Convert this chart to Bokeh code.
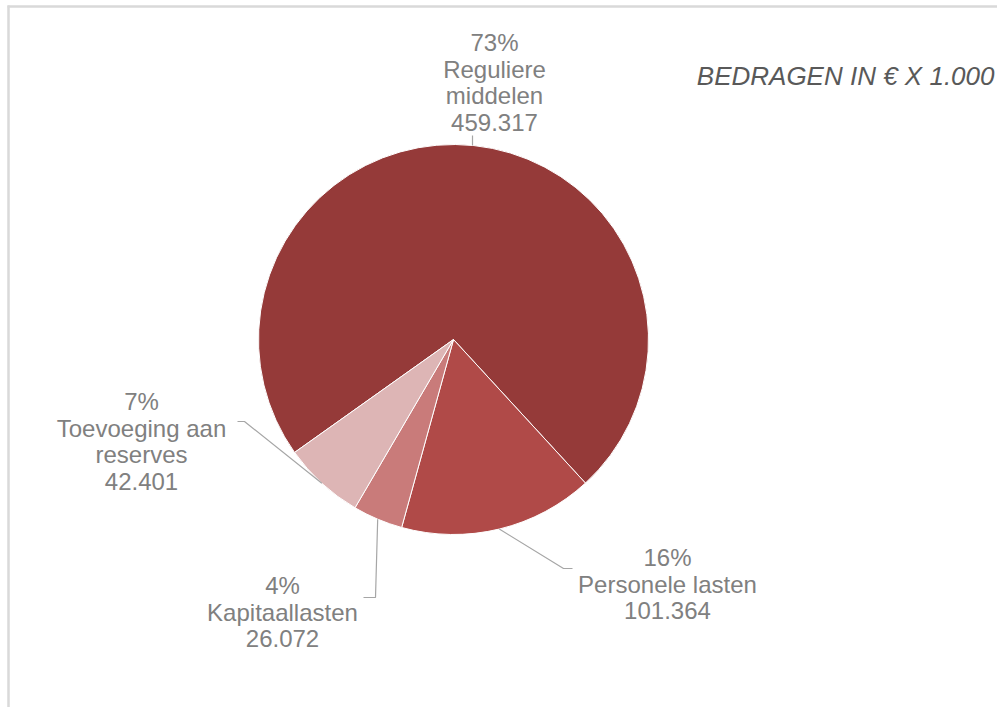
import math
from bokeh.plotting import figure
from bokeh.models import Range1d, ColumnDataSource
from bokeh.core.properties import value
from bokeh.embed import file_html
from bokeh.resources import INLINE

# ---- data ----
categories = ["Reguliere\nmiddelen", "Personele lasten", "Kapitaallasten", "Toevoeging aan\nreserves"]
amounts = [459317, 101364, 26072, 42401]          # bedragen in € x 1.000
colors = ["#953A39", "#B04A48", "#C97B7A", "#DDB5B5"]
title_text = "BEDRAGEN IN € X 1.000"

# ---- layout ----
W, H = 997, 707
CX_PAGE, CY_PAGE = 453, 339
R = 195
START = 234.6              # first slice starts here, degrees clockwise from 12 o'clock
FONT = "Liberation Sans"
LABEL_COLOR = "#808080"
LEADER_COLOR = "#A6A6A6"

# label centre x and first-line y (page pixels), and leader elbow points (page pixels)
label_pos = [(494, 42), (667, 557), (282, 585), (141, 401)]
leader_elbows = [[(472, 135)], [(563, 568), (572, 568)], [(375, 597), (363, 597)], [(244, 421), (237, 421)]]
LINE_STEP = 26.5

def py(y_page):
    return H - y_page

def px(x_page):
    return x_page

CX, CY = px(CX_PAGE), py(CY_PAGE)

p = figure(width=W, height=H, output_backend="svg", toolbar_location=None,
           x_range=Range1d(0, W), y_range=Range1d(0, H),
           x_axis_type=None, y_axis_type=None, min_border=0,
           background_fill_color="white", border_fill_color="white")
p.grid.visible = False
p.outline_line_color = None

# border (left & top)
p.line([px(8), px(8)], [py(5), 0], line_color="#D9D9D9", line_width=2.5)
p.line([px(7), W], [py(6), py(6)], line_color="#D9D9D9", line_width=2.5)

total = sum(amounts)
starts, ends, mids = [], [], []
theta = START
for a in amounts:
    span = a / total * 360.0
    starts.append(math.radians(90 - theta))
    ends.append(math.radians(90 - (theta + span)))
    mids.append(theta + span / 2)
    theta += span

src = ColumnDataSource(dict(start=starts, end=ends, color=colors))
p.wedge(x=CX, y=CY, radius=R, start_angle="start", end_angle="end", direction="clock",
        fill_color="color", line_color="white", line_width=1, source=src)

# leader lines
for i, m in enumerate(mids):
    if i == 0:
        ex, ey = leader_elbows[0][0]
        xs = [px(ex), px(ex)]
        ys = [py(ey), CY + math.sqrt(max(R**2 - (px(ex) - CX) ** 2, 0))]
    else:
        rad = math.radians(m)
        sx = CX + R * math.sin(rad)
        sy = CY + R * math.cos(rad)
        xs = [sx] + [px(e[0]) for e in leader_elbows[i]]
        ys = [sy] + [py(e[1]) for e in leader_elbows[i]]
    p.line(xs, ys, line_color=LEADER_COLOR, line_width=1.2)

# labels
for i, (cat, a) in enumerate(zip(categories, amounts)):
    pct = f"{round(a / total * 100)}%"
    num = f"{a:,}".replace(",", ".")
    lines = [pct] + cat.split("\n") + [num]
    lx, ly = label_pos[i]
    p.text(x=[px(lx)] * len(lines), y=[py(ly + k * LINE_STEP) for k in range(len(lines))], text=lines,
           text_align="center", text_baseline="middle", text_color=LABEL_COLOR,
           text_font=value(FONT), text_font_size="24px")

# title
p.text(x=[px(994)], y=[py(75)], text=[title_text], text_align="right", text_baseline="middle",
       text_color="#595959", text_font=value(FONT), text_font_size="26px", text_font_style="italic")

open("out.html", "w").write(file_html(p, INLINE))
